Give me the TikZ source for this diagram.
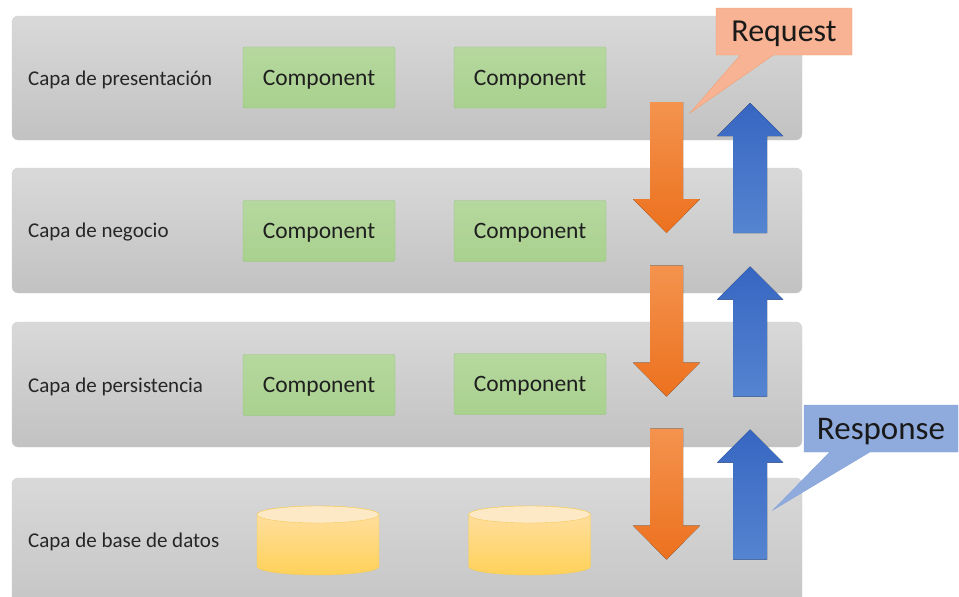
\documentclass[tikz,border=0pt]{standalone}
\usepackage{fontspec}
\setmainfont{Carlito}
\usetikzlibrary{shapes.callouts}
\definecolor{compgreen}{HTML}{A9D18E}
\definecolor{compedge}{HTML}{93C47D}
\definecolor{dbedge}{HTML}{F2CB5A}
\definecolor{reqfill}{HTML}{F7B393}
\definecolor{reqedge}{HTML}{F2A070}
\definecolor{resfill}{HTML}{8FAADC}
\definecolor{resedge}{HTML}{86A3D9}
\begin{document}
\begin{tikzpicture}[x=1pt,y=-1pt,
    layer/.style={draw=black!18, rounded corners=6pt, top color=black!15, bottom color=black!24},
    label/.style={anchor=west, inner sep=0pt, text depth=0pt, text=black!85, font=\fontsize{21}{25}\selectfont},
    comp/.style={draw=compedge, top color=compgreen!85!white, bottom color=compgreen, rounded corners=2pt,
        minimum width=152pt, minimum height=61pt, text depth=0pt, text=black!88, font=\fontsize{23.5}{28}\selectfont},
    callbox/.style={rectangle callout, minimum height=47pt, text depth=0pt, text=black!90}]
    \useasboundingbox (0,0) rectangle (959,597);
    % layers
    \draw[layer] (12,16) rectangle (802,140);
    \draw[layer] (12,168) rectangle (802,293);
    \draw[layer] (12,322) rectangle (802,447);
    \draw[layer] (12,478) rectangle (802,630);
    \node[label] (presentacion) at (28,78) {Capa de presentación};
    \node[label] (negocio) at (28,230) {Capa de negocio};
    \node[label] (persistencia) at (28,385) {Capa de persistencia};
    \node[label] (datos) at (28,540) {Capa de base de datos};
    % components
    \node[comp] (pres1) at (319,77.5) {Component};
    \node[comp] (pres2) at (530,77.5) {Component};
    \node[comp] (neg1) at (319,231) {Component};
    \node[comp] (neg2) at (530,231) {Component};
    \node[comp] (pers1) at (319,385) {Component};
    \node[comp] (pers2) at (530,384) {Component};
    % databases
    \foreach \cx in {318,529.5} {
        \draw[dbedge, top color=yellow!30!orange!35!white, bottom color=yellow!45!orange!65!white]
            (\cx-61,514.5) -- (\cx-61,566.5) arc[start angle=180, end angle=0, x radius=61, y radius=8.5]
            -- (\cx+61,514.5) arc[start angle=0, end angle=-180, x radius=61, y radius=8.5] -- cycle;
        \draw[dbedge, fill=yellow!20!orange!20!white] (\cx,514.5) ellipse[x radius=61, y radius=8.5];
    }
    % request arrows
    \definecolor{orangetop}{HTML}{F4934E}
    \definecolor{orangebot}{HTML}{EC711E}
    \definecolor{bluetop}{HTML}{3766C2}
    \definecolor{bluebot}{HTML}{5584D1}
    \foreach \y in {0,163.5,326.5} {
        \fill[top color=orangetop, bottom color=orangebot]
            (650,102+\y) -- (683,102+\y) -- (683,199+\y) -- (700,199+\y) -- (666.5,233+\y)
            -- (633,199+\y) -- (650,199+\y) -- cycle;
        \fill[top color=bluetop, bottom color=bluebot]
            (750,103+\y) -- (783,136+\y) -- (767,136+\y) -- (767,233+\y) -- (733,233+\y)
            -- (733,136+\y) -- (717,136+\y) -- cycle;
    }
    % callouts
    \node[callbox, draw=reqedge, fill=reqfill, minimum width=136pt, callout pointer width=33pt,
        callout absolute pointer={(690,113)}, font=\fontsize{32}{38}\selectfont] (request) at (784,31.5) {Request};
    \node[callbox, draw=resedge, fill=resfill, minimum width=154pt, callout pointer width=40pt,
        callout absolute pointer={(773,510)}, font=\fontsize{33}{40}\selectfont] (response) at (881,428.5) {Response};
\end{tikzpicture}
\end{document}
